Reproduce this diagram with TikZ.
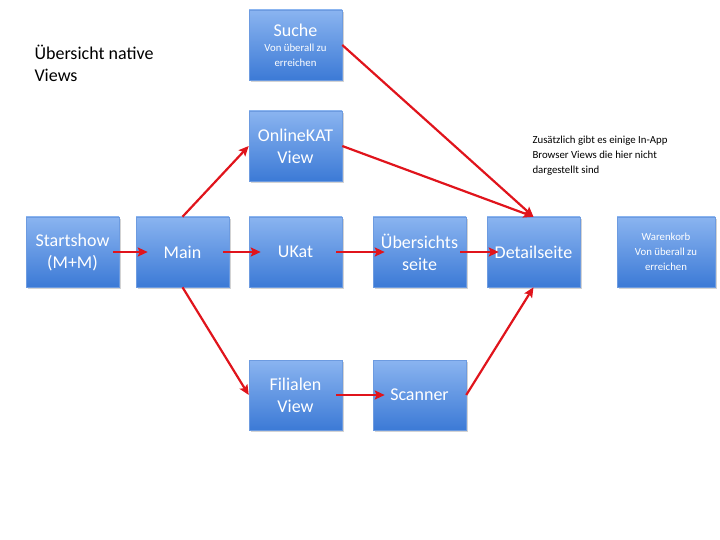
\documentclass[tikz,border=0pt]{standalone}
\usepackage{fontspec}
\setmainfont{Carlito}
\usepackage{tikz}
\usetikzlibrary{positioning, arrows.meta, shadows}

\definecolor{boxtop}{HTML}{8AB4F0}
\definecolor{boxbot}{HTML}{3C7AD6}
\definecolor{boxline}{HTML}{6D9BE0}
\definecolor{arrred}{HTML}{E0141C}

\begin{document}
\begin{tikzpicture}[
    x=1pt, y=-1pt,
    every node/.style={font=\fontsize{18}{22}\selectfont},
    view/.style={rectangle, draw=boxline, line width=0.5pt, top color=boxtop, bottom color=boxbot,
        text=white, align=center, minimum width=93pt, minimum height=70pt, inner sep=2pt,
        drop shadow={shadow xshift=1.5pt, shadow yshift=-2pt, opacity=0.35}},
    small/.style={font=\fontsize{10.8}{15}\selectfont},
    arr/.style={-{Stealth[length=10pt, width=9pt, inset=2pt]}, line width=2.2pt, arrred},
    harr/.style={arr, shorten <=-6pt, shorten >=-12pt},
]
    \useasboundingbox (0,0) rectangle (720,540);

    % --- views (absolute coordinates, top-to-bottom) ---
    \node[view, small] (suche) at (295.5, 45)
        {{\fontsize{18}{22}\selectfont Suche}\\Von überall zu\\erreichen};
    \node[view] (online) at (295.5, 146) {OnlineKAT\\View};

    % main row
    \node[view] (start) at (72.5, 252) {Startshow\\(M+M)};
    \node[view] (main) at (182.5, 252) {Main};
    \node[view] (ukat) at (295.5, 252) {UKat};
    \node[view] (uebers) at (419.5, 252) {Übersichts\\seite};
    \node[view] (detail) at (533.5, 252) {Detailseite};
    \node[view, small, minimum width=98pt] (warenkorb) at (666, 252)
        {Warenkorb\\Von überall zu\\erreichen};

    % lower row
    \node[view] (filialen) at (295.5, 395) {Filialen\\View};
    \node[view] (scanner) at (419.5, 395) {Scanner};

    % --- free texts ---
    \node[anchor=north west, align=left] (title) at (31, 42)
        {Übersicht native\\Views};
    \node[small, anchor=north west, align=left] (note) at (529, 132)
        {Zusätzlich gibt es einige In-App\\Browser Views die hier nicht\\dargestellt sind};

    % --- arrows ---
    % horizontal ones reach a bit into both boxes
    \draw[harr] (start.east) -- (main.west);
    \draw[harr] (main.east) -- (ukat.west);
    \draw[harr] (ukat.east) -- (uebers.west);
    \draw[harr] (uebers.east) -- (detail.west);
    \draw[harr] (filialen.east) -- (scanner.west);

    % Main fans out up and down
    \draw[arr] (main.north) -- (online.west);
    \draw[arr] (main.south) -- (filialen.west);

    % everything ends in Detailseite
    \draw[arr] (scanner.east) -- (detail.south);
    \draw[arr] (online.east) -- (detail.north);
    \draw[arr] (suche.east) -- (detail.north);
\end{tikzpicture}
\end{document}
